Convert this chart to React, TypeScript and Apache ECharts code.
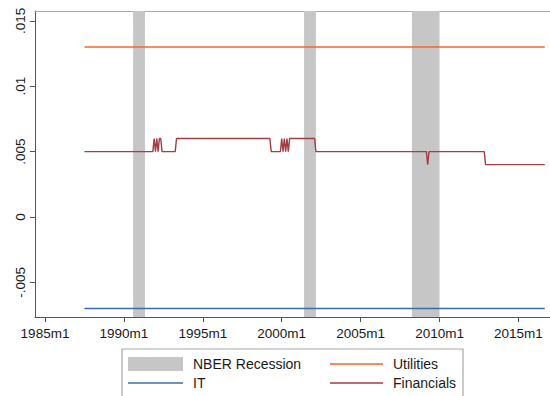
import { useEffect, useRef } from "react";
import * as echarts from "echarts";

// Axis ticks (years) and y-axis tick values
const xTickYears = [1985, 1990, 1995, 2000, 2005, 2010, 2015];
const yTickValues = [-0.005, 0, 0.005, 0.01, 0.015];

// NBER recession shading, start and end months
const recessions: [string, string][] = [
  ["1990m8", "1991m5"],
  ["2001m6", "2002m3"],
  ["2008m4", "2010m1"],
];

// Monthly series, listed at the months where the value holds or changes
const utilities: [string, number][] = [
  ["1987m7", 0.013],
  ["2016m9", 0.013],
];

const it: [string, number][] = [
  ["1987m7", -0.007],
  ["2016m9", -0.007],
];

const financials: [string, number][] = [
  ["1987m7", 0.005],
  ["1991m11", 0.005],
  ["1991m12", 0.006],
  ["1992m1", 0.005],
  ["1992m2", 0.006],
  ["1992m3", 0.005],
  ["1992m4", 0.006],
  ["1992m5", 0.006],
  ["1992m6", 0.005],
  ["1993m4", 0.005],
  ["1993m5", 0.006],
  ["1999m4", 0.006],
  ["1999m5", 0.005],
  ["1999m12", 0.005],
  ["2000m1", 0.006],
  ["2000m2", 0.005],
  ["2000m3", 0.006],
  ["2000m4", 0.005],
  ["2000m5", 0.006],
  ["2000m6", 0.005],
  ["2000m7", 0.006],
  ["2002m2", 0.006],
  ["2002m3", 0.005],
  ["2009m3", 0.005],
  ["2009m4", 0.004],
  ["2009m5", 0.005],
  ["2012m11", 0.005],
  ["2012m12", 0.004],
  ["2016m9", 0.004],
];

const COLORS = {
  utilities: "#F0682E",
  it: "#3C6EA5",
  financials: "#A23C45",
  recession: "#C6C6C6",
};

const FONT = "Liberation Sans, Arial, Helvetica, sans-serif";

// "1990m8" -> 1990.583
function monthToYear(s: string): number {
  const [y, m] = s.split("m").map(Number);
  return y + (m - 1) / 12;
}

function toPoints(rows: [string, number][]): [number, number][] {
  return rows.map(([d, v]) => [monthToYear(d), v]);
}

function fmtY(v: number): string {
  if (v === 0) return "0";
  const s = String(Math.abs(v)).replace(/^0/, "");
  return (v < 0 ? "-" : "") + s;
}

const X_MIN = 1984.366;
const X_MAX = 2017.0;
const Y_MIN = -0.00765;
const Y_MAX = 0.01575;

export default function App() {
  const ref = useRef<HTMLDivElement>(null);

  useEffect(() => {
    if (!ref.current) return;
    const chart = echarts.init(ref.current, undefined, { renderer: "svg" });

    const lineSeries = (name: string, rows: [string, number][], color: string) => ({
      name,
      type: "line" as const,
      data: toPoints(rows),
      showSymbol: false,
      symbol: "none",
      z: 3,
      lineStyle: { color, width: 1.4 },
    });

    const legendX1 = 128;
    const legendX2 = 330;
    const row1 = 364;
    const row2 = 383;
    const textStyle = { fontFamily: FONT, fontSize: 14, fill: "#1a1a1a" };

    chart.setOption({
      animation: false,
      backgroundColor: "#ffffff",
      grid: { left: 35, right: 0, top: 11, bottom: 79, containLabel: false },
      xAxis: [
        {
          type: "value",
          position: "bottom",
          min: X_MIN,
          max: X_MAX,
          splitLine: { show: false },
          axisLine: { show: true, onZero: false, lineStyle: { color: "#555555", width: 1 } },
          axisTick: {
            show: true,
            length: 5,
            customValues: xTickYears,
            lineStyle: { color: "#555555" },
          },
          axisLabel: {
            customValues: xTickYears,
            formatter: (v: number) => `${Math.round(v)}m1`,
            margin: 9,
            fontFamily: FONT,
            fontSize: 13.5,
            color: "#1a1a1a",
          },
        },
        {
          type: "value",
          position: "top",
          min: X_MIN,
          max: X_MAX,
          splitLine: { show: false },
          axisLine: { show: true, onZero: false, lineStyle: { color: "#a8a8a8", width: 1.2 } },
          axisTick: { show: false },
          axisLabel: { show: false },
        },
      ],
      yAxis: {
        type: "value",
        min: Y_MIN,
        max: Y_MAX,
        splitLine: { show: false },
        axisLine: { show: true, onZero: false, lineStyle: { color: "#555555", width: 1 } },
        axisTick: {
          show: true,
          length: 5,
          customValues: yTickValues,
          lineStyle: { color: "#555555" },
        },
        axisLabel: {
          customValues: yTickValues,
          formatter: fmtY,
          rotate: 90,
          margin: 8,
          fontFamily: FONT,
          fontSize: 13.5,
          color: "#1a1a1a",
        },
      },
      series: [
        {
          name: "NBER Recession",
          type: "line",
          data: [],
          z: 1,
          markArea: {
            silent: true,
            itemStyle: { color: COLORS.recession, opacity: 1 },
            data: recessions.map(([a, b]) => [
              { xAxis: monthToYear(a) },
              { xAxis: monthToYear(b) },
            ]),
          },
        },
        lineSeries("Utilities", utilities, COLORS.utilities),
        lineSeries("IT", it, COLORS.it),
        lineSeries("Financials", financials, COLORS.financials),
      ],
      graphic: [
        {
          type: "rect",
          shape: { x: 122, y: 349, width: 341, height: 60 },
          style: { fill: "#ffffff", stroke: "#a8a8a8", lineWidth: 1.2 },
        },
        {
          type: "rect",
          shape: { x: legendX1, y: row1 - 7, width: 55, height: 14 },
          style: { fill: COLORS.recession },
        },
        {
          type: "text",
          x: legendX1 + 65,
          y: row1,
          style: { ...textStyle, text: "NBER Recession", verticalAlign: "middle" },
        },
        {
          type: "line",
          shape: { x1: legendX1, y1: row2, x2: legendX1 + 55, y2: row2 },
          style: { stroke: COLORS.it, lineWidth: 1.4 },
        },
        {
          type: "text",
          x: legendX1 + 65,
          y: row2,
          style: { ...textStyle, text: "IT", verticalAlign: "middle" },
        },
        {
          type: "line",
          shape: { x1: legendX2, y1: row1, x2: legendX2 + 53, y2: row1 },
          style: { stroke: COLORS.utilities, lineWidth: 1.4 },
        },
        {
          type: "text",
          x: legendX2 + 63,
          y: row1,
          style: { ...textStyle, text: "Utilities", verticalAlign: "middle" },
        },
        {
          type: "line",
          shape: { x1: legendX2, y1: row2, x2: legendX2 + 53, y2: row2 },
          style: { stroke: COLORS.financials, lineWidth: 1.4 },
        },
        {
          type: "text",
          x: legendX2 + 63,
          y: row2,
          style: { ...textStyle, text: "Financials", verticalAlign: "middle" },
        },
      ],
    });

    return () => chart.dispose();
  }, []);

  return (
    <div
      ref={ref}
      style={{ position: "absolute", left: 0, top: 0, width: 550, height: 396 }}
    />
  );
}
